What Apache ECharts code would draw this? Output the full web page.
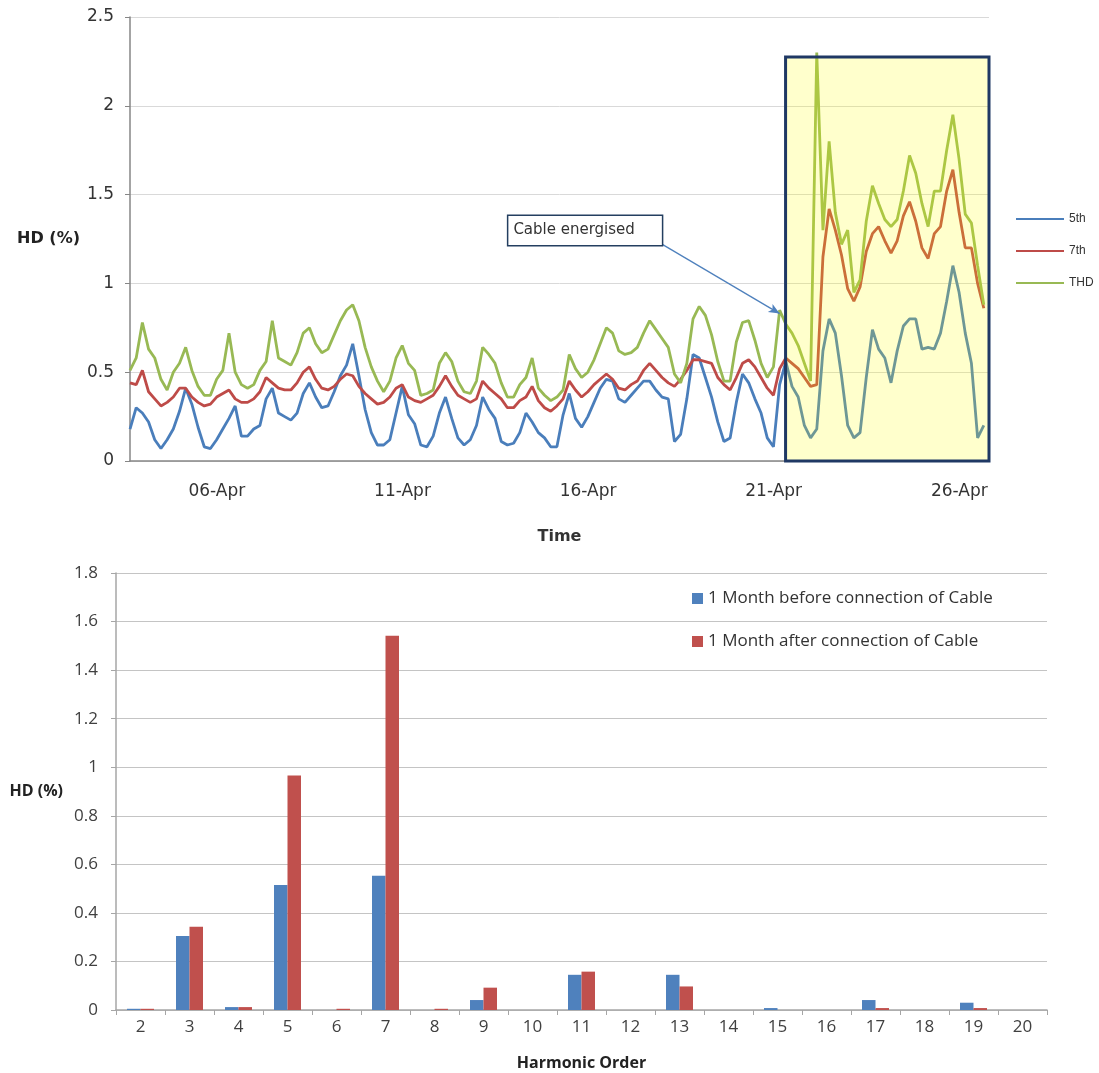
<!DOCTYPE html>
<html><head><meta charset="utf-8">
<script src="https://cdn.jsdelivr.net/npm/echarts@6/dist/echarts.min.js"></script>
<style>html,body{margin:0;padding:0;background:#fff}#c{width:1099px;height:1073px}</style>
</head><body><div id="c"></div>
<script>
// ---------- Top chart: harmonic distortion time series ----------
const lineSeriesNames = ['5th', '7th', 'THD'];
const timeStartDay = 3.66;      // day of April of the first sample
const timeStepDay = 1 / 6;      // 4-hour sampling

const hd5th = [
0.18,0.30,0.27,0.22,0.12,0.07,0.12,0.18,0.28,0.41,
0.32,0.19,0.08,0.07,0.12,0.18,0.24,0.31,0.14,0.14,
0.18,0.20,0.35,0.41,0.27,0.25,0.23,0.27,0.38,0.44,
0.36,0.30,0.31,0.39,0.48,0.54,0.66,0.48,0.29,0.16,
0.09,0.09,0.12,0.27,0.42,0.26,0.21,0.09,0.08,0.14,
0.27,0.36,0.24,0.13,0.09,0.12,0.20,0.36,0.29,0.24,
0.11,0.09,0.10,0.16,0.27,0.22,0.16,0.13,0.08,0.08,
0.26,0.38,0.24,0.19,0.25,0.33,0.41,0.46,0.45,0.35,
0.33,0.37,0.41,0.45,0.45,0.40,0.36,0.35,0.11,0.15,
0.35,0.60,0.58,0.47,0.36,0.22,0.11,0.13,0.33,0.49,
0.44,0.35,0.27,0.13,0.08,0.43,0.56,0.42,0.36,0.20,
0.13,0.18,0.62,0.80,0.72,0.48,0.20,0.13,0.16,0.47,
0.74,0.63,0.58,0.44,0.62,0.76,0.80,0.80,0.63,0.64,
0.63,0.72,0.90,1.10,0.95,0.72,0.55,0.13,0.20];

const hd7th = [
0.44,0.43,0.51,0.39,0.35,0.31,0.33,0.36,0.41,0.41,
0.36,0.33,0.31,0.32,0.36,0.38,0.40,0.35,0.33,0.33,
0.35,0.39,0.47,0.44,0.41,0.40,0.40,0.44,0.50,0.53,
0.46,0.41,0.40,0.42,0.46,0.49,0.48,0.42,0.38,0.35,
0.32,0.33,0.36,0.41,0.43,0.36,0.34,0.33,0.35,0.37,
0.42,0.48,0.42,0.37,0.35,0.33,0.35,0.45,0.41,0.38,
0.35,0.30,0.30,0.34,0.36,0.42,0.34,0.30,0.28,0.31,
0.35,0.45,0.40,0.36,0.39,0.43,0.46,0.49,0.46,0.41,
0.40,0.43,0.45,0.51,0.55,0.51,0.47,0.44,0.42,0.46,
0.51,0.57,0.57,0.56,0.55,0.47,0.43,0.40,0.47,0.55,
0.57,0.53,0.47,0.41,0.37,0.52,0.58,0.55,0.52,0.47,
0.42,0.43,1.15,1.42,1.30,1.16,0.97,0.90,0.98,1.18,
1.28,1.32,1.24,1.17,1.24,1.38,1.46,1.35,1.20,1.14,
1.28,1.32,1.52,1.64,1.40,1.20,1.20,1.00,0.86];

const thd = [
0.51,0.58,0.78,0.63,0.58,0.46,0.40,0.50,0.55,0.64,
0.51,0.42,0.37,0.37,0.46,0.51,0.72,0.50,0.43,0.41,
0.43,0.51,0.56,0.79,0.58,0.56,0.54,0.61,0.72,0.75,
0.66,0.61,0.63,0.71,0.79,0.85,0.88,0.79,0.64,0.53,
0.45,0.39,0.45,0.58,0.65,0.55,0.51,0.37,0.38,0.40,
0.55,0.61,0.56,0.45,0.39,0.38,0.45,0.64,0.60,0.55,
0.44,0.36,0.36,0.43,0.47,0.58,0.41,0.37,0.34,0.36,
0.40,0.60,0.52,0.47,0.50,0.57,0.66,0.75,0.72,0.62,
0.60,0.61,0.64,0.72,0.79,0.74,0.69,0.64,0.49,0.44,
0.55,0.80,0.87,0.82,0.71,0.56,0.45,0.45,0.67,0.78,
0.79,0.68,0.55,0.47,0.53,0.85,0.77,0.72,0.65,0.55,
0.45,2.30,1.30,1.80,1.40,1.22,1.30,0.95,1.02,1.35,
1.55,1.45,1.36,1.32,1.36,1.52,1.72,1.62,1.45,1.32,
1.52,1.52,1.75,1.95,1.70,1.39,1.34,1.10,0.88];

const dateTickDays = [6, 11, 16, 21, 26];
const dateTickLabels = ['06-Apr', '11-Apr', '16-Apr', '21-Apr', '26-Apr'];
const energisedBox = [21.32, 26.8, 0, 2.275];      // x from, x to, y from, y to
const annotationText = 'Cable energised';
const annotationAt = [15.92, 1.298];
const arrowFrom = [18.0, 1.22];
const arrowTo = [21.16, 0.83];

// ---------- Bottom chart: harmonic spectrum ----------
const harmonicOrders = ['2','3','4','5','6','7','8','9','10','11','12','13','14','15','16','17','18','19','20'];
const barSeriesNames = ['1 Month before connection of Cable', '1 Month after connection of Cable'];
const beforeCable = [0.005,0.305,0.012,0.515,0,0.553,0,0.041,0,0.145,0,0.145,0,0.008,0,0.041,0,0.03,0];
const afterCable  = [0.005,0.343,0.012,0.966,0.005,1.542,0.005,0.092,0,0.158,0,0.097,0,0,0,0.008,0,0.008,0];

const times = hd5th.map((_, i) => timeStartDay + i * timeStepDay);
const pair = arr => arr.map((v, i) => [times[i], v]);

const topFont = 'DejaVu Sans';
const botFont = 'Open Sans';

const chart = echarts.init(document.getElementById('c'), null, {renderer: 'canvas'});
chart.setOption({
  animation: false,
  backgroundColor: '#ffffff',
  grid: [
    {left: 130, right: 110, top: 17, bottom: 612},
    {left: 116, right: 52, top: 573, bottom: 63}
  ],
  legend: [
    {
      data: lineSeriesNames, orient: 'vertical', left: 1011, top: 208,
      icon: 'rect', itemWidth: 48, itemHeight: 2, itemGap: 20,
      textStyle: {fontFamily: 'Liberation Sans', fontSize: 12, color: '#333'}
    },
    {
      data: barSeriesNames, orient: 'vertical', left: 687, top: 585,
      icon: 'rect', itemWidth: 11, itemHeight: 11, itemGap: 26,
      textStyle: {fontFamily: botFont, fontSize: 17, color: '#333'}
    }
  ],
  xAxis: [
    {
      gridIndex: 0, type: 'value', min: timeStartDay, max: 26.8,
      name: 'Time', nameLocation: 'middle', nameGap: 68,
      nameTextStyle: {fontFamily: topFont, fontSize: 16, fontWeight: 'bold', color: '#333'},
      axisLine: {show: true, lineStyle: {color: '#868686', width: 1.5}},
      axisTick: {show: false},
      splitLine: {show: false},
      axisLabel: {
        customValues: dateTickDays, margin: 22,
        fontFamily: topFont, fontSize: 17, color: '#333',
        formatter: v => dateTickLabels[dateTickDays.indexOf(Math.round(v))] || ''
      }
    },
    {
      gridIndex: 1, type: 'category', data: harmonicOrders,
      name: 'Harmonic Order', nameLocation: 'middle', nameGap: 45,
      nameTextStyle: {fontFamily: botFont, fontSize: 16, fontWeight: 'bold', color: '#222'},
      axisLine: {lineStyle: {color: '#a6a6a6', width: 1.5}},
      axisTick: {show: true, alignWithLabel: false, length: 5, lineStyle: {color: '#a6a6a6'}},
      axisLabel: {fontFamily: botFont, fontSize: 17, color: '#404040', margin: 9, interval: 0}
    }
  ],
  yAxis: [
    {
      gridIndex: 0, type: 'value', min: 0, max: 2.5, interval: 0.5,
      name: 'HD (%)', nameLocation: 'middle', nameGap: 50, nameRotate: 0,
      nameTextStyle: {fontFamily: topFont, fontSize: 16, fontWeight: 'bold', color: '#222'},
      axisLine: {show: true, lineStyle: {color: '#868686', width: 1.5}},
      axisTick: {show: true, length: 5, lineStyle: {color: '#868686'}},
      splitLine: {lineStyle: {color: '#d9d9d9', width: 1}},
      axisLabel: {fontFamily: topFont, fontSize: 17, color: '#333', margin: 16}
    },
    {
      gridIndex: 1, type: 'value', min: 0, max: 1.8, interval: 0.2,
      name: 'HD (%)', nameLocation: 'middle', nameGap: 53, nameRotate: 0,
      nameTextStyle: {fontFamily: botFont, fontSize: 16, fontWeight: 'bold', color: '#222'},
      axisLine: {show: true, lineStyle: {color: '#a6a6a6', width: 1.5}},
      axisTick: {show: true, length: 5, lineStyle: {color: '#a6a6a6'}},
      splitLine: {lineStyle: {color: '#c4c4c4', width: 1.2}},
      axisLabel: {fontFamily: botFont, fontSize: 17, color: '#404040', margin: 18}
    }
  ],
  series: [
    {name: '5th', type: 'line', xAxisIndex: 0, yAxisIndex: 0, data: pair(hd5th),
     showSymbol: false, color: '#4A7EBB', lineStyle: {width: 2.8, color: '#4A7EBB'}, z: 2},
    {name: '7th', type: 'line', xAxisIndex: 0, yAxisIndex: 0, data: pair(hd7th),
     showSymbol: false, color: '#BE4B48', lineStyle: {width: 2.8, color: '#BE4B48'}, z: 3},
    {name: 'THD', type: 'line', xAxisIndex: 0, yAxisIndex: 0, data: pair(thd),
     showSymbol: false, color: '#98B954', lineStyle: {width: 2.8, color: '#98B954'}, z: 4},
    {
      name: 'overlay', type: 'line', xAxisIndex: 0, yAxisIndex: 0, data: [], z: 10, silent: true,
      markArea: {
        silent: true, z: 10,
        itemStyle: {color: 'rgba(255,255,0,0.2)', borderColor: '#1F3864', borderWidth: 3},
        data: [[{xAxis: energisedBox[0], yAxis: energisedBox[2]}, {xAxis: energisedBox[1], yAxis: energisedBox[3]}]]
      },
      markLine: {
        silent: true, symbol: ['none', 'arrow'], symbolSize: [7, 11],
        lineStyle: {color: '#4F81BD', width: 1.3, type: 'solid'},
        label: {show: false},
        data: [[{coord: arrowFrom}, {coord: arrowTo}]]
      },
      markPoint: {
        silent: true,
        data: [{
          coord: annotationAt, symbol: 'rect', symbolSize: 1,
          itemStyle: {color: 'rgba(0,0,0,0)'},
          label: {show: true, position: 'inside', formatter: annotationText,
                  backgroundColor: '#ffffff', borderColor: '#243F60', borderWidth: 1.5,
                  padding: [7, 27, 7, 5],
                  fontFamily: topFont, fontSize: 15, color: '#333'}
        }]
      }
    },
    {name: barSeriesNames[0], type: 'bar', xAxisIndex: 1, yAxisIndex: 1, data: beforeCable,
     barWidth: 13.5, barGap: '0%', color: '#4F81BD', itemStyle: {color: '#4F81BD'}},
    {name: barSeriesNames[1], type: 'bar', xAxisIndex: 1, yAxisIndex: 1, data: afterCable,
     barWidth: 13.5, barGap: '0%', color: '#C0504D', itemStyle: {color: '#C0504D'}}
  ]
});
</script></body></html>
